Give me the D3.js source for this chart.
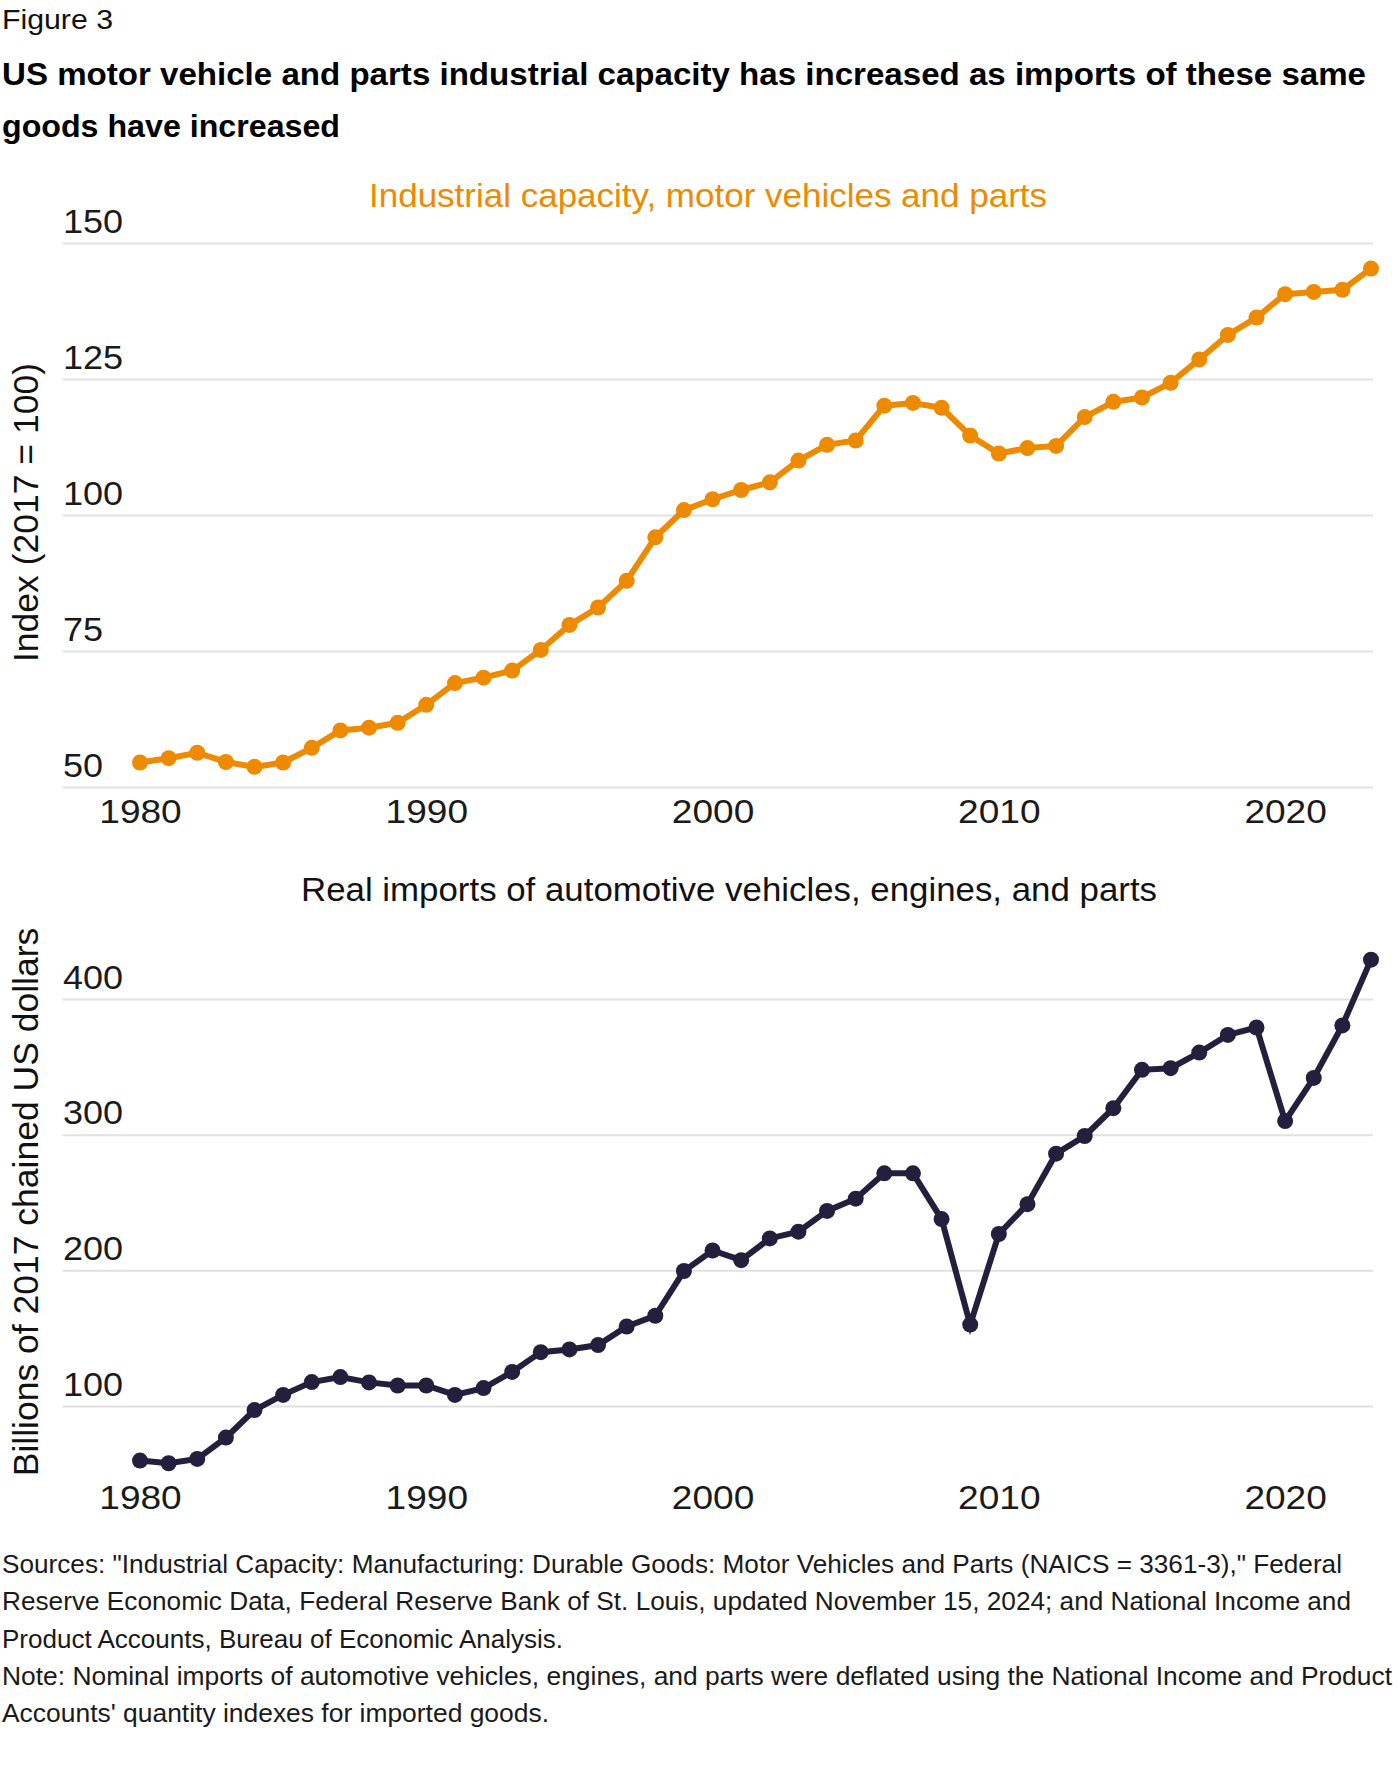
<!DOCTYPE html>
<html><head><meta charset="utf-8">
<script src="https://cdn.jsdelivr.net/npm/d3@7"></script>
<style>
body{margin:0;background:#fff;}
svg{display:block;}
text{font-family:"Liberation Sans",Arial,sans-serif;}
</style>
</head><body>
<svg id="c" width="1400" height="1778"></svg>
<script>
const years = [1980,1981,1982,1983,1984,1985,1986,1987,1988,1989,
  1990,1991,1992,1993,1994,1995,1996,1997,1998,1999,
  2000,2001,2002,2003,2004,2005,2006,2007,2008,2009,
  2010,2011,2012,2013,2014,2015,2016,2017,2018,2019,
  2020,2021,2022,2023];
const capacity = [54.5,55.3,56.3,54.6,53.7,54.5,57.2,60.4,60.9,61.8,
  65.1,69.1,70.1,71.4,75.2,79.8,83.0,87.9,95.9,100.9,
  102.9,104.6,106.0,110.0,112.9,113.7,120.1,120.6,119.7,114.6,
  111.3,112.3,112.7,118.0,120.8,121.6,124.3,128.6,133.1,136.3,
  140.6,141.0,141.4,145.3];
const imports = [59.8,57.8,61.0,76.7,97.0,108.2,117.6,121.3,117.4,115.1,
  115.1,108.2,113.2,125.1,139.7,141.7,144.9,158.6,166.5,199.5,
  214.6,207.5,223.5,228.5,243.8,252.8,271.5,271.5,237.8,160.0,
  226.8,248.8,286.0,299.0,319.5,347.8,349.0,360.5,373.5,379.0,
  310.0,341.8,380.5,429.0];
const xTickYears = [1980,1990,2000,2010,2020];
const capTicks = [50,75,100,125,150];
const impTicks = [100,200,300,400];

const figureLabel = "Figure 3";
const titleLines = [
  "US motor vehicle and parts industrial capacity has increased as imports of these same",
  "goods have increased"
];
const capTitle = "Industrial capacity, motor vehicles and parts";
const impTitle = "Real imports of automotive vehicles, engines, and parts";
const capAxisTitle = "Index (2017 = 100)";
const impAxisTitle = "Billions of 2017 chained US dollars";
const footLines = [
  "Sources: \"Industrial Capacity: Manufacturing: Durable Goods: Motor Vehicles and Parts (NAICS = 3361-3),\" Federal",
  "Reserve Economic Data, Federal Reserve Bank of St. Louis, updated November 15, 2024; and National Income and",
  "Product Accounts, Bureau of Economic Analysis.",
  "Note: Nominal imports of automotive vehicles, engines, and parts were deflated using the National Income and Product",
  "Accounts' quantity indexes for imported goods."
];

const ORANGE = "#ED8A00";
const NAVY = "#241F3C";

const svg = d3.select("#c");
svg.append("rect").attr("width",1400).attr("height",1778).attr("fill","#fff");

function fit(sel, w){ sel.attr("textLength", w).attr("lengthAdjust","spacingAndGlyphs"); return sel; }
function stretch(sel, k){
  sel.each(function(){
    const w = this.getComputedTextLength();
    d3.select(this).attr("textLength", w*k).attr("lengthAdjust","spacingAndGlyphs");
  });
}

// Header
fit(svg.append("text").attr("x",2).attr("y",28.5).attr("font-size",28).attr("fill","#111").text(figureLabel), 111);
const titleBase = [85, 136.5];
const titleW = [1364, 338];
titleLines.forEach((t,i)=>{
  fit(svg.append("text").attr("x",2).attr("y",titleBase[i]).attr("font-size",30.5)
    .attr("font-weight","bold").attr("fill","#000").text(t), titleW[i]);
});

const x = d3.scaleLinear().domain([1980,2023]).range([140,1371]);
const gridL = 62.5, gridR = 1373;

function panel(o){
  const g = svg.append("g");
  const ya = g.append("g").attr("transform",`translate(${gridL},0)`)
    .call(d3.axisLeft(o.y).tickValues(o.ticks).tickSize(-(gridR-gridL)).tickFormat(d3.format("d")));
  ya.select(".domain").remove();
  ya.selectAll(".tick line").attr("stroke","#e1e1e1").attr("stroke-width",2);
  const yt = ya.selectAll(".tick text").attr("x",0.5).attr("y",-11).attr("dy",null)
    .attr("text-anchor","start").style("font-size","34px").attr("fill","#1a1a1a");
  stretch(yt, 1.06);
  const xa = g.append("g").attr("transform",`translate(0,${o.xBase})`)
    .call(d3.axisBottom(x).tickValues(xTickYears).tickSize(0).tickFormat(d3.format("d")));
  xa.select(".domain").remove();
  const xt = xa.selectAll(".tick text").attr("y",0).attr("dy",null)
    .style("font-size","34px").attr("fill","#1a1a1a");
  stretch(xt, 1.09);
  fit(g.append("text").attr("x",o.titleX).attr("y",o.titleBase).attr("text-anchor","middle")
    .style("font-size","34px").attr("fill",o.titleColor).text(o.title), o.titleW);
  g.append("text").attr("transform",`translate(38,${o.axisY}) rotate(-90)`)
    .attr("text-anchor","middle").style("font-size","35.5px").attr("fill","#111").text(o.axisTitle);
  const data = years.map((yr,i)=>({year:yr, v:o.values[i]}));
  g.append("path").datum(data)
    .attr("d", d3.line().x(d=>x(d.year)).y(d=>o.y(d.v)))
    .attr("fill","none").attr("stroke",o.color).attr("stroke-width",6)
    .attr("stroke-linejoin","miter");
  g.selectAll("circle.pt").data(data).join("circle").attr("class","pt")
    .attr("cx",d=>x(d.year)).attr("cy",d=>o.y(d.v)).attr("r",8).attr("fill",o.color);
}

panel({
  y: d3.scaleLinear().domain([50,150]).range([787,243]),
  ticks: capTicks, values: capacity, color: ORANGE,
  title: capTitle, titleX: 708, titleBase: 207, titleColor: ORANGE, titleW: 678,
  axisTitle: capAxisTitle, axisY: 512.5, xBase: 823
});
panel({
  y: d3.scaleLinear().domain([100,400]).range([1406,999]),
  ticks: impTicks, values: imports, color: NAVY,
  title: impTitle, titleX: 729, titleBase: 901, titleColor: "#111", titleW: 856,
  axisTitle: impAxisTitle, axisY: 1202, xBase: 1509
});

const footBase = [1573, 1610.3, 1647.6, 1685, 1722.3];
const footW = [1340, 1349, 561, 1390, 547];
footLines.forEach((t,i)=>{
  fit(svg.append("text").attr("x",2).attr("y",footBase[i]).style("font-size","25.5px")
    .attr("fill","#1a1a1a").text(t), footW[i]);
});
</script>
</body></html>
